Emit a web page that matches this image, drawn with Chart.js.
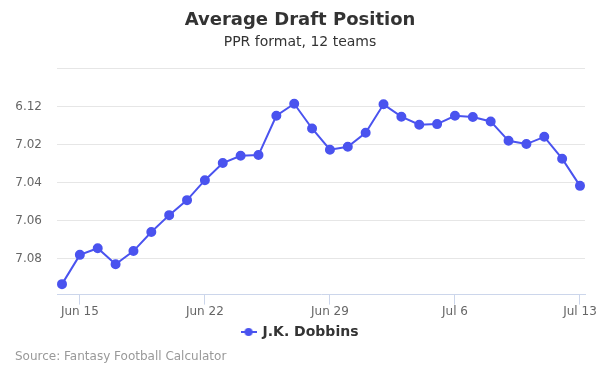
<!DOCTYPE html>
<html>
<head>
<meta charset="utf-8">
<script src="https://cdn.jsdelivr.net/npm/chart.js@4/dist/chart.umd.min.js"></script>
<style>
  html, body { margin: 0; padding: 0; background: #fff; }
  #wrap { position: relative; width: 600px; height: 375px; }
  #source { position: absolute; left: 15px; top: 349px; font: 12px "DejaVu Sans", sans-serif; color: #999; }
</style>
</head>
<body>
<div id="wrap">
  <canvas id="c" width="600" height="375"></canvas>
  <div id="source">Source: Fantasy Football Calculator</div>
</div>
<script>
const dates = ['Jun 14','Jun 15','Jun 16','Jun 17','Jun 18','Jun 19','Jun 20','Jun 21','Jun 22','Jun 23',
  'Jun 24','Jun 25','Jun 26','Jun 27','Jun 28','Jun 29','Jun 30','Jul 1','Jul 2','Jul 3',
  'Jul 4','Jul 5','Jul 6','Jul 7','Jul 8','Jul 9','Jul 10','Jul 11','Jul 12','Jul 13'];
const adp = [81.35, 79.81, 79.46, 80.30, 79.61, 78.61, 77.72, 76.93, 75.88, 74.98,
  74.60, 74.56, 72.49, 71.86, 73.16, 74.28, 74.12, 73.39, 71.89, 72.54,
  72.96, 72.93, 72.49, 72.56, 72.79, 73.81, 73.98, 73.60, 74.75, 76.18];
const xTickIndex = [1, 8, 15, 22, 29];
const yTickValues = [70, 72, 74, 76, 78, 80];
const yTickLabels = ['', '6.12', '7.02', '7.04', '7.06', '7.08'];
const seriesName = 'J.K. Dobbins';
const color = '#4a53ef';
const FONT = '"DejaVu Sans", sans-serif';

// legend symbol: short line with a dot
const sym = document.createElement('canvas');
sym.width = 16; sym.height = 10;
(function(){
  const g = sym.getContext('2d');
  g.strokeStyle = color; g.lineWidth = 2;
  g.beginPath(); g.moveTo(0, 5); g.lineTo(16, 5); g.stroke();
  g.fillStyle = color; g.beginPath(); g.arc(8, 5, 4, 0, Math.PI * 2); g.fill();
})();

new Chart(document.getElementById('c'), {
  type: 'line',
  data: {
    datasets: [{
      label: seriesName,
      data: adp.map((v, i) => ({ x: i, y: v })),
      borderColor: color,
      backgroundColor: color,
      borderWidth: 2,
      pointRadius: 4,
      pointHoverRadius: 5,
      pointStyle: 'circle',
      tension: 0
    }]
  },
  options: {
    responsive: false,
    animation: false,
    layout: { padding: { left: 15, right: 15, top: 0, bottom: 26 } },
    scales: {
      x: {
        type: 'linear',
        min: -0.28,
        max: 29.28,
        afterBuildTicks: s => { s.ticks = xTickIndex.map(v => ({ value: v })); },
        ticks: {
          callback: v => dates[v],
          color: '#666', font: { family: FONT, size: 12 },
          padding: 0, maxRotation: 0, autoSkip: false
        },
        grid: { drawOnChartArea: false, drawTicks: true, tickLength: 10, color: '#ccd6eb', lineWidth: 1 },
        border: { display: true, color: '#ccd6eb', width: 1 }
      },
      y: {
        reverse: true,
        min: 70,
        max: 81.9,
        afterBuildTicks: s => { s.ticks = yTickValues.map(v => ({ value: v })); },
        afterFit: s => { s.width = 42; },
        ticks: {
          callback: v => yTickLabels[yTickValues.indexOf(v)],
          color: '#666', font: { family: FONT, size: 12 }, padding: 15
        },
        grid: { drawTicks: false, color: '#e6e6e6', lineWidth: 1 },
        border: { display: false }
      }
    },
    plugins: {
      title: {
        display: true, text: 'Average Draft Position', color: '#333',
        font: { family: FONT, size: 18, weight: 'bold' }, padding: { top: 10, bottom: 0 }
      },
      subtitle: {
        display: true, text: 'PPR format, 12 teams', color: '#333',
        font: { family: FONT, size: 14 }, padding: { top: 2, bottom: 18 }
      },
      legend: {
        position: 'bottom',
        labels: {
          usePointStyle: true,
          generateLabels: ch => [{
            text: seriesName, pointStyle: sym, fillStyle: color, strokeStyle: color,
            lineWidth: 0, fontColor: '#333', datasetIndex: 0, hidden: false
          }],
          color: '#333', font: { family: FONT, size: 14, weight: 'bold' }, padding: 6
        }
      },
      tooltip: { enabled: false }
    }
  }
});
</script>
</body>
</html>
